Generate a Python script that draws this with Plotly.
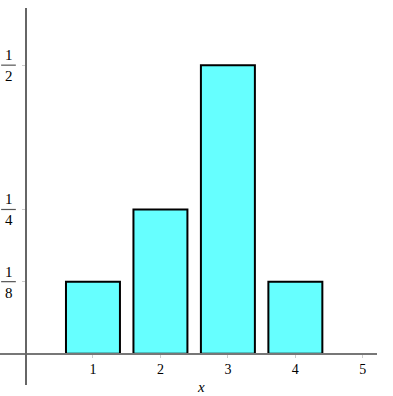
import plotly.graph_objects as go

x_values = [1, 2, 3, 4]
probabilities = [1/8, 1/4, 1/2, 1/8]
x_ticks = [1, 2, 3, 4, 5]
y_ticks = [1/8, 1/4, 1/2]
y_num = ["1", "1", "1"]
y_den = ["8", "4", "2"]

xmin, xmax = -0.378, 5.21
ymin, ymax = -0.054, 0.599
font = "Liberation Serif"

fig = go.Figure()
fig.add_trace(go.Bar(
    x=x_values, y=probabilities, width=0.8,
    marker=dict(color="#66FFFF", line=dict(color="black", width=2)),
))

annotations = []
shapes = []
for v, n, d in zip(y_ticks, y_num, y_den):
    annotations.append(dict(x=0, xref="paper", xanchor="left", xshift=3, y=v, yref="y",
                            text=n, showarrow=False, yshift=10,
                            font=dict(family=font, size=15, color="black")))
    annotations.append(dict(x=0, xref="paper", xanchor="left", xshift=3, y=v, yref="y",
                            text=d, showarrow=False, yshift=-11,
                            font=dict(family=font, size=15, color="black")))
    shapes.append(dict(type="line", xref="paper", x0=0.003, x1=0.042, yref="y", y0=v, y1=v,
                       line=dict(color="#555555", width=1.2)))

annotations.append(dict(x=(0 + xmax) / 2, xref="x", y=0, yref="y", yshift=-33,
                        text="<i>x</i>", showarrow=False,
                        font=dict(family=font, size=15, color="black")))

fig.update_layout(
    width=393, height=396,
    margin=dict(l=0, r=16, t=8, b=11),
    plot_bgcolor="white", paper_bgcolor="white",
    showlegend=False,
    annotations=annotations,
    shapes=shapes,
    xaxis=dict(range=[xmin, xmax], anchor="free", position=(0 - ymin) / (ymax - ymin),
               showline=True, linecolor="#777777", linewidth=1.5,
               showgrid=False, zeroline=False,
               tickvals=x_ticks, ticks="outside", ticklen=3, tickcolor="#cccccc",
               tickfont=dict(family=font, size=14, color="black")),
    yaxis=dict(range=[ymin, ymax], anchor="free", position=(0 - xmin) / (xmax - xmin),
               showline=True, linecolor="#666666", linewidth=2,
               showgrid=False, zeroline=False,
               tickvals=y_ticks, ticks="outside", ticklen=3, tickcolor="#cccccc",
               showticklabels=False),
)

fig.write_html("out.html", config={"displayModeBar": False},
               post_script="document.body.style.margin='0';document.body.style.overflow='hidden';")
